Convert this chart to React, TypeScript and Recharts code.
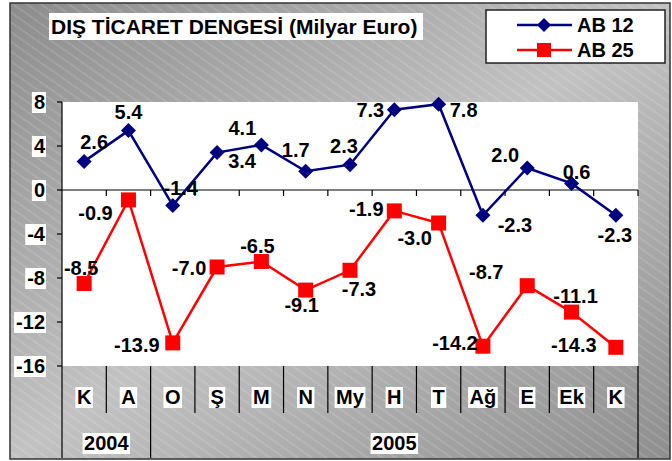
import React from "react";
import { LineChart, Line, XAxis, YAxis, CartesianGrid, ReferenceLine, LabelList } from "recharts";

// months (Kasım 2004 .. Kasım 2005)
const months = ["K", "A", "O", "Ş", "M", "N", "My", "H", "T", "Ağ", "E", "Ek", "K"];
const yearGroups = ["2004", "2005"];
const yearCounts = [2, 11];
const ab12 = [2.6, 5.4, -1.4, 3.4, 4.1, 1.7, 2.3, 7.3, 7.8, -2.3, 2.0, 0.6, -2.3];
const ab25 = [-8.5, -0.9, -13.9, -7.0, -6.5, -9.1, -7.3, -1.9, -3.0, -14.2, -8.7, -11.1, -14.3];
const yTicks = [8, 4, 0, -4, -8, -12, -16];

// label placement (dx, dy from the point), kept apart from the values
const labelOffsets12: [number, number][] = [
  [10, -19], [0, -19], [8, -17], [25, 8], [-19, -17], [-10, -21], [-6, -19],
  [-24, 0], [25, 6], [32, 10], [-22, -13], [5, -11], [-1, 20],
];
const labelOffsets25: [number, number][] = [
  [-3, -16], [-33, 13], [-36, 2], [-28, 1], [-4, -16], [-4, 15], [9, 19],
  [-28, -2], [-24, 15], [-28, -3], [-41, -14], [4, -16], [-42, -2],
];

const rows = months.map((m, i) => ({ m, ab12: ab12[i], ab25: ab25[i] }));

const W = 672;
const H = 461;
const MARGIN = { top: 102, right: 34, bottom: 0, left: 10 };
const Y_W = 52;
const X_H = 95;
const PLOT_L = MARGIN.left + Y_W;
const PLOT_R = W - MARGIN.right;
const PLOT_B = H - X_H;
const BAND = (PLOT_R - PLOT_L) / months.length;
const FONT = "'Liberation Sans', Arial, sans-serif";
const FS = 20;
const NAVY = "#000080";
const RED = "#ff0000";

const em: Record<string, number> = {
  A: 0.722, E: 0.667, H: 0.722, K: 0.722, M: 0.833, N: 0.722, O: 0.778, "Ş": 0.667,
  T: 0.611, "ğ": 0.611, k: 0.556, y: 0.556, "-": 0.333, ".": 0.278,
};
const textW = (s: string) => s.split("").reduce((a, c) => a + (em[c] ?? 0.556), 0) * FS;

function BoxedText({ x, y, text, anchor = "middle" }: { x: number; y: number; text: string; anchor?: "middle" | "end" }) {
  const w = textW(text) + 3;
  const left = anchor === "middle" ? x - w / 2 : x - w + 1;
  return (
    <g>
      <rect x={left} y={y - 10} width={w} height={21} fill="#fff" />
      <text x={x} y={y + 7} textAnchor={anchor} fontFamily={FONT} fontSize={FS} fontWeight="bold" fill="#000">
        {text}
      </text>
    </g>
  );
}

function MonthTick(props: any) {
  const { index, payload } = props;
  const left = PLOT_L + index * BAND;
  const cx = left + BAND / 2;
  let start = 0;
  const starts = yearCounts.map((c) => {
    const s = start;
    start += c;
    return s;
  });
  const g = starts.indexOf(index);
  const isLast = index === months.length - 1;
  return (
    <g>
      <line x1={left} y1={PLOT_B} x2={left} y2={g >= 0 ? H - 3 : PLOT_B + 47} stroke="#000" strokeWidth={1.2} />
      {isLast && <line x1={left + BAND} y1={PLOT_B} x2={left + BAND} y2={H - 3} stroke="#000" strokeWidth={1.2} />}
      <BoxedText x={cx} y={PLOT_B + 31} text={payload.value} />
      {g >= 0 && <BoxedText x={left + (yearCounts[g] * BAND) / 2} y={PLOT_B + 77} text={yearGroups[g]} />}
    </g>
  );
}

function ValueTick(props: any) {
  const { y, payload } = props;
  return <BoxedText x={PLOT_L - 17} y={y} text={String(payload.value)} anchor="end" />;
}

function ZeroAxis(props: any) {
  const { y1 } = props;
  if (y1 == null) return null;
  return (
    <g>
      <line x1={PLOT_L} y1={y1} x2={PLOT_R} y2={y1} stroke="#000" strokeWidth={1.2} />
      {months.map((_, i) => (
        <line key={i} x1={PLOT_L + (i + 1) * BAND} y1={y1} x2={PLOT_L + (i + 1) * BAND} y2={y1 + 6} stroke="#000" strokeWidth={1.2} />
      ))}
    </g>
  );
}

const Diamond = (p: any) => {
  const { cx, cy, index } = p;
  const r = 7.5;
  return <path key={index} d={`M${cx},${cy - r}L${cx + r},${cy}L${cx},${cy + r}L${cx - r},${cy}Z`} fill={NAVY} />;
};
const Square = (p: any) => {
  const { cx, cy, index } = p;
  return <rect key={index} x={cx - 7.5} y={cy - 7.5} width={15} height={15} fill={RED} />;
};

const makeLabel = (offsets: [number, number][]) => (p: any) => {
  const { x, y, value, index } = p;
  const [dx, dy] = offsets[index] ?? [0, -16];
  return (
    <text key={index} x={x + dx} y={y + dy + 7} textAnchor="middle" fontFamily={FONT} fontSize={FS} fontWeight="bold" fill="#000">
      {Number(value).toFixed(1)}
    </text>
  );
};

function Background() {
  return (
    <svg width={W} height={H} style={{ position: "absolute", left: 0, top: 0 }}>
      <defs>
        <linearGradient id="bg" x1="0" y1="0" x2="1" y2="1">
          <stop offset="0" stopColor="#8c8c8c" />
          <stop offset="0.5" stopColor="#c2c2c2" />
          <stop offset="1" stopColor="#8e8e8e" />
        </linearGradient>
        <pattern id="hatch" width="8" height="8" patternUnits="userSpaceOnUse" patternTransform="rotate(35)">
          <line x1="0" y1="4" x2="8" y2="4" stroke="#fff" strokeOpacity={0.45} strokeWidth={0.8} strokeDasharray="1.5 1" />
        </pattern>
      </defs>
      <rect x={0} y={0} width={W} height={H} fill="#fff" />
      <rect x={10} y={3} width={660} height={456} fill="url(#bg)" />
      <rect x={10} y={3} width={660} height={456} fill="url(#hatch)" stroke="#333" strokeWidth={1.5} />
      <rect x={49} y={13} width={374} height={27} fill="#fff" />
      <text x={51} y={34} fontFamily={FONT} fontSize={21} fontWeight="bold" fill="#000">
        DIŞ TİCARET DENGESİ (Milyar Euro)
      </text>
      <rect x={486} y={10} width={179} height={53} fill="#fff" stroke="#222" strokeWidth={1.5} />
      <line x1={517} y1={25} x2={572} y2={25} stroke={NAVY} strokeWidth={2.5} />
      <path d="M544,18L551,25L544,32L537,25Z" fill={NAVY} />
      <text x={577} y={32} fontFamily={FONT} fontSize={FS} fontWeight="bold" fill="#000">AB 12</text>
      <line x1={517} y1={50} x2={572} y2={50} stroke={RED} strokeWidth={2.5} />
      <rect x={537} y={43} width={14} height={14} fill={RED} />
      <text x={577} y={57} fontFamily={FONT} fontSize={FS} fontWeight="bold" fill="#000">AB 25</text>
    </svg>
  );
}

export default function App() {
  return (
    <div style={{ position: "absolute", left: 0, top: 0, width: W, height: H }}>
      <Background />
      <div style={{ position: "absolute", left: 0, top: 0 }}>
        <LineChart width={W} height={H} data={rows} margin={MARGIN}>
          <CartesianGrid horizontal={false} vertical={false} fill="#fff" fillOpacity={1} />
          <XAxis
            dataKey="m"
            height={X_H}
            padding={{ left: BAND / 2, right: BAND / 2 }}
            axisLine={false}
            tickLine={false}
            interval={0}
            tick={<MonthTick />}
          />
          <YAxis
            width={Y_W}
            domain={[-16, 8]}
            ticks={yTicks}
            interval={0}
            axisLine={{ stroke: "#000", strokeWidth: 1.2 }}
            tickLine={{ stroke: "#000", strokeWidth: 1.2 }}
            tickSize={5}
            tickMargin={12}
            tick={<ValueTick />}
          />
          <ReferenceLine y={0} shape={<ZeroAxis />} />
          <Line dataKey="ab12" stroke={NAVY} strokeWidth={2.5} dot={Diamond} isAnimationActive={false}>
            <LabelList dataKey="ab12" content={makeLabel(labelOffsets12)} />
          </Line>
          <Line dataKey="ab25" stroke={RED} strokeWidth={2.5} dot={Square} isAnimationActive={false}>
            <LabelList dataKey="ab25" content={makeLabel(labelOffsets25)} />
          </Line>
        </LineChart>
      </div>
    </div>
  );
}
